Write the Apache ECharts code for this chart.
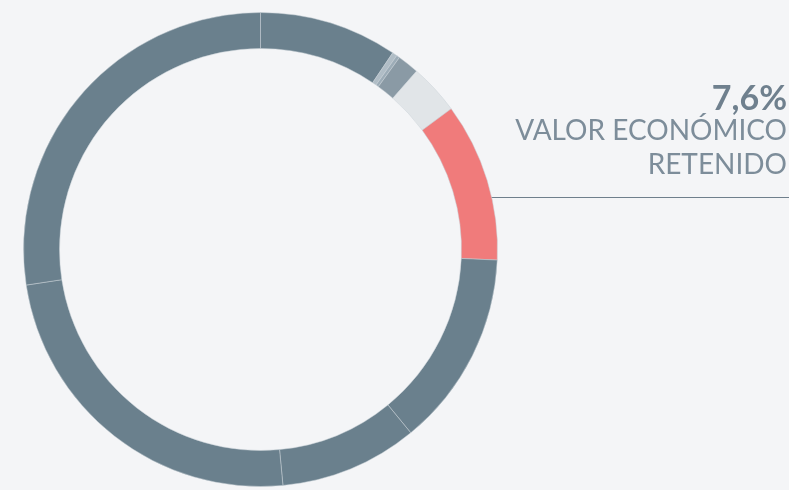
<!DOCTYPE html>
<html>
<head>
<meta charset="utf-8">
<script src="https://cdn.jsdelivr.net/npm/echarts@6/dist/echarts.min.js"></script>
<style>
    html, body { margin: 0; padding: 0; background: #f4f5f7; }
    #chart { width: 789px; height: 490px; }
</style>
</head>
<body>
<div id="chart"></div>
<script>
// share of each slice (percent, clockwise from the top)
const sliceNames = ['s1', 's2', 's3', 's4', 's5', 'retenido', 's7', 's8', 's9', 's10'];
const sliceValues = [9.42, 0.33, 0.22, 1.47, 3.44, 10.83, 13.36, 9.42, 24.11, 27.40];
const sliceColors = ['#6a808d', '#b0bdc6', '#9cacb7', '#8a9aa5', '#e1e5e8',
    '#f07b7b', '#6a808d', '#6a808d', '#6a808d', '#6a808d'];

const labelValue = '7,6%';
const labelLines = ['VALOR ECONÓMICO', 'RETENIDO'];

let chart = echarts.init(document.getElementById('chart'));

let data = sliceValues.map((v, i) => {
    return {
        name: sliceNames[i],
        value: v,
        itemStyle: { color: sliceColors[i] }
    }
});

let option = {
    backgroundColor: '#f4f5f7',
    animation: false,
    series: [
        {
            type: 'pie',
            center: [260.5, 249.5],
            radius: [201, 237],
            startAngle: 90,
            clockwise: true,
            silent: true,
            label: { show: false },
            labelLine: { show: false },
            itemStyle: {
                borderColor: '#c9d1d7',
                borderWidth: 0.5
            },
            emphasis: { disabled: true },
            data: data
        }
    ],
    graphic: [
        {
            type: 'line',
            shape: { x1: 490, y1: 197.5, x2: 789, y2: 197.5 },
            style: { stroke: '#6f7f8c', lineWidth: 1 }
        },
        {
            type: 'text',
            style: {
                x: 787, y: 99,
                text: labelValue,
                textAlign: 'right',
                textVerticalAlign: 'middle',
                fontFamily: 'Lato',
                fontWeight: 'bold',
                fontSize: 34,
                fill: '#6f808e'
            }
        },
        {
            type: 'text',
            style: {
                x: 787, y: 131,
                text: labelLines[0],
                textAlign: 'right',
                textVerticalAlign: 'middle',
                fontFamily: 'Lato',
                fontWeight: 'normal',
                fontSize: 28,
                fill: '#7d8d9a'
            }
        },
        {
            type: 'text',
            style: {
                x: 787, y: 165,
                text: labelLines[1],
                textAlign: 'right',
                textVerticalAlign: 'middle',
                fontFamily: 'Lato',
                fontWeight: 'normal',
                fontSize: 28,
                fill: '#7d8d9a'
            }
        }
    ]
};
chart.setOption(option);
window.addEventListener('resize', () => {
    chart.resize();
});
</script>
</body>
</html>
